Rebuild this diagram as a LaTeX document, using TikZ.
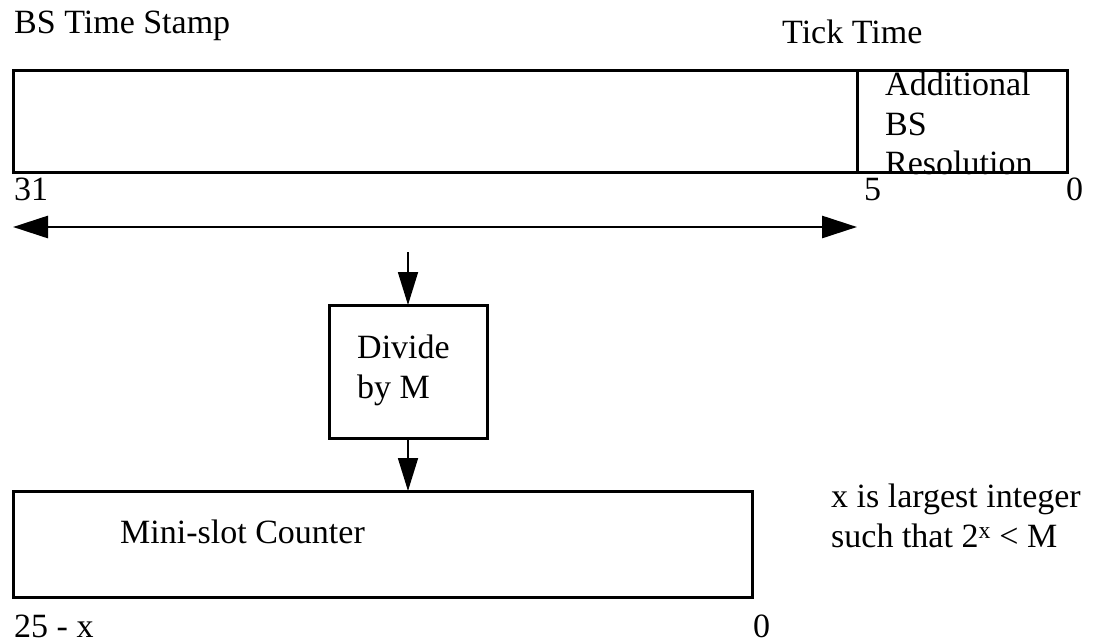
\documentclass[tikz,border=0pt]{standalone}
\usepackage{fontspec}
\setmainfont{Liberation Serif}
\usetikzlibrary{arrows.meta}
\begin{document}
\begin{tikzpicture}[x=1pt,y=-1pt,
  lbl/.style={inner sep=0pt,anchor=base west,font=\fontsize{34}{39}\selectfont},
  mlbl/.style={inner sep=0pt,anchor=north west,align=left,font=\fontsize{34}{39.5}\selectfont},
  fieldbox/.style={draw,line width=3pt,inner sep=0pt,outer sep=0pt},
  bigarrow/.style={line width=2.8pt,{Triangle[length=35pt,width=22pt]}-{Triangle[length=35pt,width=22pt]}},
  smallarrow/.style={line width=1.7pt,-{Triangle[length=33pt,width=20pt]}}]
\useasboundingbox (0,0) rectangle (1103,643);
\fill[white] (0,0) rectangle (1103,643);
% top register
\node[fieldbox,minimum width=844pt,minimum height=102pt] (stamp) at (435,121) {};
\node[fieldbox,minimum width=210pt,minimum height=102pt] (res) at (962,121) {};
\node[lbl] (tstamp) at (14,33) {BS Time Stamp};
\node[lbl] (ttick) at (782,43) {Tick Time};
\node[mlbl] (tres) at (885,72) {Additional\\BS\\Resolution};
\node[lbl] (b31) at (14,200) {31};
\node[lbl] (b5) at (864,200) {5};
\node[lbl] (b0) at (1066,200) {0};
% range arrow
\coordinate (aL) at (13,227);
\coordinate (aR) at (857,227);
\draw[bigarrow] (aL) -- (aR);
% divide box
\node[fieldbox,minimum width=158pt,minimum height=133pt] (div) at (408,371.5) {};
\node[mlbl] (tdiv) at (357,335) {Divide\\by M};
\coordinate (tapin) at (408,252);
\draw[smallarrow] (tapin) -- (div.north);
% mini-slot counter
\node[fieldbox,minimum width=739pt,minimum height=106pt] (mini) at (382.5,544) {};
\node[lbl] (tmini) at (120,543) {Mini-slot Counter};
\draw[smallarrow] (div.south) -- (div.south |- mini.north);
\node[lbl,text depth=0pt] (b25) at (14,637) {25 - x};
\node[lbl,text depth=0pt] (bm0) at (753,637) {0};
% note
\node[mlbl] (note) at (831,484) {x is largest integer\\such that 2\textsuperscript{x} < M};
\end{tikzpicture}
\end{document}
